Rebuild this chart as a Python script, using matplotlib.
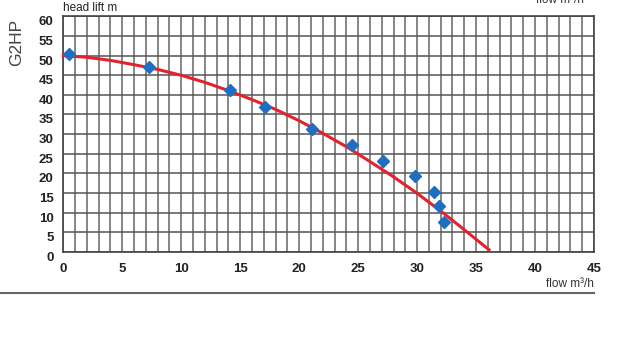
import matplotlib.pyplot as plt
from matplotlib.lines import Line2D
from matplotlib.ticker import MultipleLocator

# pump curve (flow m3/h, head m)
curve_q = [0, 2, 4, 6, 8, 10, 12, 14, 16, 18, 20, 22, 24, 26, 28, 30, 32, 34, 36.1]
curve_h = [50, 49.6, 48.8, 47.7, 46.5, 45.0, 43.2, 41.1, 38.8, 36.3, 33.4, 30.2,
           26.8, 23.0, 19.1, 14.9, 10.4, 5.6, 0.5]

# measured points
meas_q = [0.5, 7.3, 14.1, 17.1, 21.1, 24.5, 27.1, 29.8, 31.4, 31.9, 32.3]
meas_h = [50.4, 47.2, 41.3, 36.8, 31.3, 27.2, 23.1, 19.3, 15.3, 11.7, 7.6]

x_ticks = [0, 5, 10, 15, 20, 25, 30, 35, 40, 45]
y_ticks = [0, 5, 10, 15, 20, 25, 30, 35, 40, 45, 50, 55, 60]

font = ['Liberation Sans', 'DejaVu Sans']

fig = plt.figure(figsize=(6.4, 3.63), dpi=100)
ax = fig.add_axes([0.0989, 0.3066, 0.8292, 0.648])

ax.set_xlim(0, 45)
ax.set_ylim(0, 60)
ax.xaxis.set_minor_locator(MultipleLocator(1))
ax.set_xticks(x_ticks)
ax.set_yticks(y_ticks)
ax.grid(True, which='both', axis='x', color='#666666', lw=1.1)
ax.grid(True, which='major', axis='y', color='#555555', lw=1.1)
ax.tick_params(which='both', length=0)
ax.set_xticklabels([str(v) for v in x_ticks], fontsize=9.5, fontweight='bold',
                   family=font, color='#222222')
ax.set_yticklabels([str(v) for v in y_ticks], fontsize=9.5, fontweight='bold',
                   family=font, color='#222222')
ax.tick_params(axis='x', pad=8)
ax.tick_params(axis='y', pad=7)
for lab in ax.get_yticklabels():
    lab.set_verticalalignment('top')
for sp in ax.spines.values():
    sp.set_color('#444444')
    sp.set_linewidth(1.2)
ax.set_axisbelow(True)

ax.plot(curve_q, curve_h, color='#e3232b', lw=2.2, zorder=3, clip_on=False,
        solid_joinstyle='round')
ax.plot(meas_q, meas_h, 'D', color='#1f6fc0', markersize=6, zorder=4, clip_on=False)

fig.text(0.0989, 0.977, 'head lift m', fontsize=8.5, family=font, color='#222222',
         va='center', ha='left')
fig.text(0.026, 0.884, 'G2HP', fontsize=12.5, family=font, color='#444444',
         rotation=90, va='center', ha='center')
fig.text(0.928, 0.218, 'flow m\u00b3/h', fontsize=8.5, family=font, color='#333333',
         ha='right', va='center')
fig.text(0.912, 1.0, 'flow m\u00b3/h', fontsize=8.5, family=font, color='#333333',
         ha='right', va='center')
fig.add_artist(Line2D([0, 0.928], [0.194, 0.194], color='#666666', lw=1.5))

fig.savefig('out.png', dpi=100)
